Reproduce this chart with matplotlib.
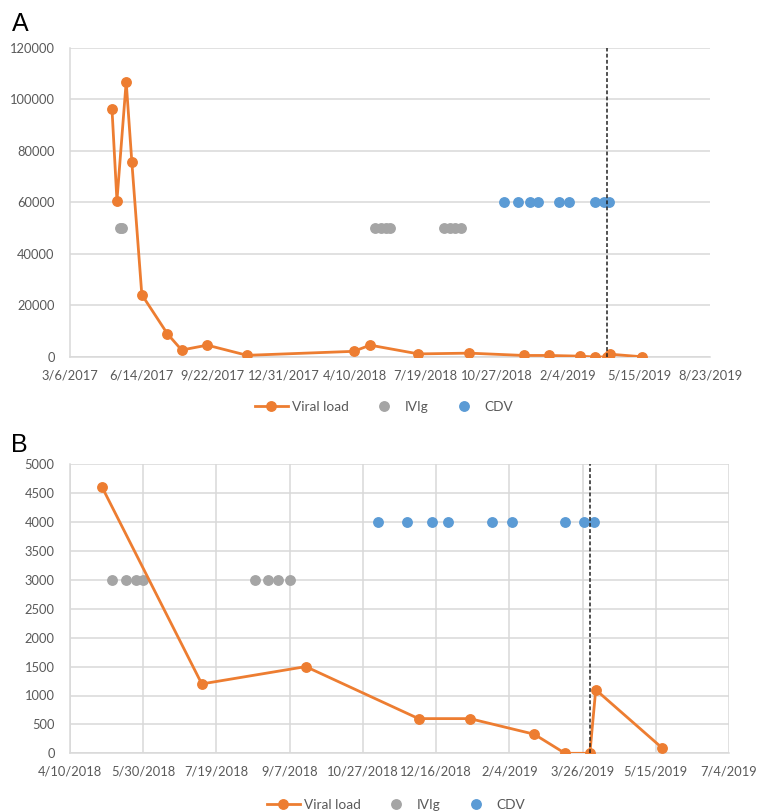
import datetime as dt
import matplotlib
matplotlib.use('Agg')
from matplotlib import pyplot as plt
from matplotlib.lines import Line2D
import matplotlib.dates as mdates
import numpy as np

# viral load measurements
vl_dates = ['2017-05-04', '2017-05-11', '2017-05-24', '2017-06-01', '2017-06-15',
            '2017-07-21', '2017-08-10', '2017-09-15', '2017-11-10', '2018-04-09',
            '2018-05-02', '2018-07-09', '2018-09-18', '2018-12-04', '2019-01-08',
            '2019-02-21', '2019-03-14', '2019-03-31', '2019-04-04', '2019-05-19']
vl_values = [96500, 60700, 106900, 75600, 24200,
             9000, 2700, 4600, 650, 2200,
             4600, 1200, 1500, 600, 600,
             330, 0, 0, 1100, 100]

# treatment days (plotted at a constant level per panel)
ivig_dates = ['2017-05-15', '2017-05-18',
              '2018-05-09', '2018-05-18', '2018-05-25', '2018-05-30',
              '2018-08-14', '2018-08-23', '2018-08-30', '2018-09-07']
cdv_dates = ['2018-11-06', '2018-11-26', '2018-12-13', '2018-12-24', '2019-01-23',
             '2019-02-06', '2019-03-14', '2019-03-27', '2019-04-03']
ivig_level = {'A': 50000, 'B': 3000}
cdv_level = {'A': 60000, 'B': 4000}
event_date = '2019-03-31'

start_a, step_a, n_a = '2017-03-06', 100, 10
start_b, step_b, n_b = '2018-04-10', 50, 10
ymax = {'A': 120000, 'B': 5000}
ystep = {'A': 20000, 'B': 500}

ORANGE = '#ED7D31'
GRAY = '#A5A5A5'
BLUE = '#5B9BD5'
GRID = '#D9D9D9'
TXT = '#595959'
FS = 9.3

plt.rcParams['font.family'] = ['Lato', 'DejaVu Sans']


def to_dt(s):
    return dt.datetime.strptime(s, '%Y-%m-%d')


def date_label(x, pos=None):
    d = mdates.num2date(x)
    return f'{d.month}/{d.day}/{d.year}'


def draw_panel(ax, key, start, step, n, vgrid):
    t0 = to_dt(start)
    ticks = [t0 + dt.timedelta(days=step * i) for i in range(n)]
    lo, hi = ticks[0], ticks[-1]

    vd = [to_dt(s) for s in vl_dates]
    keep = [i for i, d in enumerate(vd) if d >= lo]
    ax.plot([vd[i] for i in keep], [vl_values[i] for i in keep], color=ORANGE,
            lw=2, marker='o', ms=6.8, zorder=4)

    idates = [to_dt(s) for s in ivig_dates if to_dt(s) >= lo]
    ax.plot(idates, [ivig_level[key]] * len(idates), ls='none', marker='o',
            ms=6.8, color=GRAY, zorder=3)
    cdates = [to_dt(s) for s in cdv_dates if to_dt(s) >= lo]
    ax.plot(cdates, [cdv_level[key]] * len(cdates), ls='none', marker='o',
            ms=6.8, color=BLUE, zorder=3)

    ax.axvline(to_dt(event_date), color='#222222', lw=1.1, ls=(0, (2.5, 1.5)),
               zorder=6)

    ax.set_xlim(lo, hi)
    ax.set_ylim(0, ymax[key])
    ax.set_xticks(ticks)
    ax.xaxis.set_major_formatter(plt.FuncFormatter(date_label))
    ax.set_yticks(np.arange(0, ymax[key] + 1, ystep[key]))
    ax.tick_params(length=0, labelsize=FS, labelcolor=TXT)
    ax.tick_params(axis='x', pad=9)
    ax.tick_params(axis='y', pad=11)
    ax.grid(axis='y', color=GRID, lw=1.1, zorder=0)
    if vgrid:
        ax.grid(axis='x', color=GRID, lw=1.1, zorder=0)
    for s in ['right', 'top']:
        ax.spines[s].set_visible(False)
    for s in ['left', 'bottom']:
        ax.spines[s].set_color(GRID)
        ax.spines[s].set_linewidth(1.1)
    ax.set_axisbelow(True)


fig = plt.figure(figsize=(7.59, 8.11), dpi=100)
W, H = 759, 811

ax_a = fig.add_axes([70 / W, 1 - 357 / H, 640 / W, 309 / H])
draw_panel(ax_a, 'A', start_a, step_a, n_a, vgrid=False)
ax_b = fig.add_axes([70 / W, 1 - 753.3 / H, 659 / W, 289 / H])
draw_panel(ax_b, 'B', start_b, step_b, n_b, vgrid=True)

handles = [Line2D([], [], color=ORANGE, lw=2, marker='o', ms=6.8),
           Line2D([], [], color=GRAY, ls='none', marker='o', ms=6.8),
           Line2D([], [], color=BLUE, ls='none', marker='o', ms=6.8)]
labels = ['Viral load', 'IVIg', 'CDV']
for cx, cy in [(384, 407), (396, 805)]:
    fig.legend(handles, labels, loc='center', bbox_to_anchor=(cx / W, 1 - cy / H),
               ncol=3, frameon=False, fontsize=9.8, handlelength=2.4,
               handletextpad=0.3, columnspacing=1.4, labelcolor=TXT)

fig.text(12 / W, 1 - 24 / H, 'A', fontsize=18, va='center', ha='left',
         family=['Liberation Sans', 'DejaVu Sans'])
fig.text(11 / W, 1 - 445 / H, 'B', fontsize=18, va='center', ha='left',
         family=['Liberation Sans', 'DejaVu Sans'])

fig.savefig('out.png', dpi=100)
